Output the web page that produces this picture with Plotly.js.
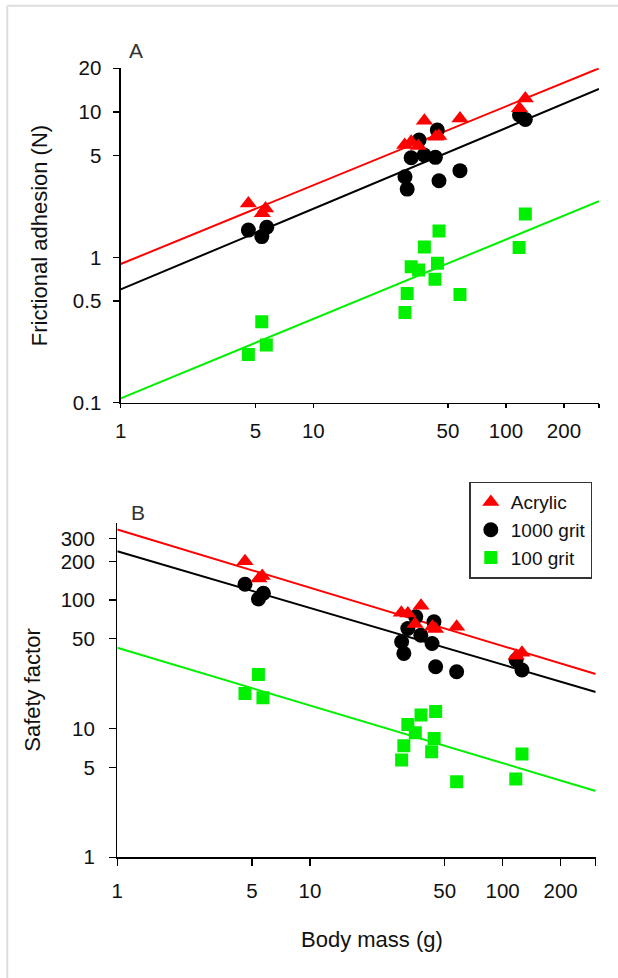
<!DOCTYPE html>
<html>
<head>
<meta charset="utf-8">
<script src="https://cdn.plot.ly/plotly-3.0.1.min.js"></script>
<style>html,body{margin:0;padding:0;background:#fff;}#chart{width:618px;height:978px;}</style>
</head>
<body>
<div id="chart"></div>
<script>
// ---- Data ----
const seriesNames = ['Acrylic', '1000 grit', '100 grit'];

const acrylicMass = [4.6, 5.65, 5.43, 29.8, 32.2, 35.1, 37.7, 43.2, 44.8, 57.7, 117.5, 126];
const acrylicAdhesion = [2.35, 2.17, 2.01, 5.93, 6.25, 5.84, 8.72, 6.77, 6.84, 9.04, 10.6, 12.4];
const acrylicSafety = [201, 154, 147, 79.7, 78.8, 65.1, 90.4, 62.1, 59.5, 62.1, 36.9, 38.9];

const grit1000Mass = [4.6, 5.4, 5.73, 29.9, 30.7, 32.2, 35.4, 37.6, 43.0, 44.0, 44.9, 57.7, 117.5, 126];
const grit1000Adhesion = [1.54, 1.39, 1.61, 3.59, 2.95, 4.85, 6.42, 5.06, 4.88, 7.52, 3.37, 3.95, 9.54, 8.90];
const grit1000Safety = [133, 102, 113, 47.4, 38.5, 60.2, 74.2, 53.4, 46.0, 67.9, 30.3, 27.7, 34.2, 28.6];

const grit100Mass = [4.6, 5.4, 5.7, 29.9, 30.7, 32.2, 35.2, 37.7, 42.8, 44.1, 44.9, 57.7, 117, 126];
const grit100Adhesion = [0.215, 0.361, 0.249, 0.418, 0.565, 0.863, 0.818, 1.18, 0.706, 0.910, 1.52, 0.556, 1.17, 1.99];
const grit100Safety = [18.8, 26.4, 17.4, 5.71, 7.38, 10.8, 9.31, 12.8, 6.63, 8.41, 13.6, 3.87, 4.06, 6.36];

// fitted lines (end points)
const fitMass = [1, 304];
const fitAcrylicAdhesion = [0.90, 20.0];
const fitGrit1000Adhesion = [0.602, 14.4];
const fitGrit100Adhesion = [0.107, 2.44];
const fitAcrylicSafety = [354, 26.6];
const fitGrit1000Safety = [240, 19.3];
const fitGrit100Safety = [42.6, 3.28];

// axis ticks
const massTicks = [1, 5, 10, 50, 100, 200, 304];
const massTickText = ['1', '5', '10', '50', '100', '200', ''];
const adhesionTicks = [0.1, 0.5, 1, 5, 10, 20];
const adhesionTickText = ['0.1', '0.5', '1', '5', '10', '20'];
const safetyTicks = [1, 5, 10, 50, 100, 200, 300];
const safetyTickText = ['1', '5', '10', '50', '100', '200', '300'];

// ---- Styles ----
const FONT = 'Liberation Sans, Arial, sans-serif';
const RED = '#ff0000', BLACK = '#000000', GREEN = '#00f000';

function line(x, y, color, xa, ya) {
  return {x: x, y: y, mode: 'lines', type: 'scatter', xaxis: xa, yaxis: ya,
    line: {color: color, width: 2}, showlegend: false, hoverinfo: 'skip'};
}
function pts(x, y, name, symbol, size, color, xa, ya, show, rank) {
  return {x: x, y: y, mode: 'markers', type: 'scatter', name: name, xaxis: xa, yaxis: ya,
    showlegend: show, legendrank: rank,
    marker: {symbol: symbol, size: size, color: color, line: {width: 0}}};
}

const traces = [
  line(fitMass, fitAcrylicAdhesion, RED, 'x', 'y'),
  line(fitMass, fitGrit1000Adhesion, BLACK, 'x', 'y'),
  line(fitMass, fitGrit100Adhesion, GREEN, 'x', 'y'),
  line(fitMass, fitAcrylicSafety, RED, 'x2', 'y2'),
  line(fitMass, fitGrit1000Safety, BLACK, 'x2', 'y2'),
  line(fitMass, fitGrit100Safety, GREEN, 'x2', 'y2'),
  pts(grit1000Mass, grit1000Adhesion, seriesNames[1], 'circle', 15, BLACK, 'x', 'y', true, 2),
  pts(acrylicMass, acrylicAdhesion, seriesNames[0], 'triangle-up', 15, RED, 'x', 'y', true, 1),
  pts(grit100Mass, grit100Adhesion, seriesNames[2], 'square', 13, GREEN, 'x', 'y', true, 3),
  pts(grit1000Mass, grit1000Safety, seriesNames[1], 'circle', 15, BLACK, 'x2', 'y2', false, 2),
  pts(acrylicMass, acrylicSafety, seriesNames[0], 'triangle-up', 15, RED, 'x2', 'y2', false, 1),
  pts(grit100Mass, grit100Safety, seriesNames[2], 'square', 13, GREEN, 'x2', 'y2', false, 3)
];

const W = 618, H = 978;
const axCommon = {type: 'log', showline: true, linecolor: '#000', linewidth: 1.3,
  showgrid: false, zeroline: false, ticks: 'outside', tickcolor: '#000', tickwidth: 1.3,
  tickmode: 'array', tickfont: {family: FONT, size: 20.5, color: '#111'}, fixedrange: true};

const layout = {
  width: W, height: H,
  margin: {l: 0, r: 0, t: 0, b: 0},
  paper_bgcolor: '#fff', plot_bgcolor: 'rgba(0,0,0,0)',
  font: {family: FONT, color: '#111'},
  showlegend: true,
  xaxis: Object.assign({}, axCommon, {
    domain: [120.7 / W, 599 / W], range: [0, Math.log10(304)], anchor: 'y',
    tickvals: massTicks, ticktext: massTickText, ticklen: 4, ticklabelstandoff: 5}),
  yaxis: Object.assign({}, axCommon, {
    domain: [1 - 402.7 / H, 1 - 68.3 / H], range: [-1, Math.log10(20)], anchor: 'x',
    tickvals: adhesionTicks, ticktext: adhesionTickText, ticklen: 6, ticklabelstandoff: 8,
    title: {text: 'Frictional adhesion (N)', font: {family: FONT, size: 22, color: '#111'}, standoff: 19}}),
  xaxis2: Object.assign({}, axCommon, {
    domain: [117.3 / W, 595.7 / W], range: [0, Math.log10(304)], anchor: 'y2',
    tickvals: massTicks, ticktext: massTickText, ticklen: 7, ticklabelstandoff: 8}),
  yaxis2: Object.assign({}, axCommon, {
    domain: [1 - 857.3 / H, 1 - 522.7 / H], range: [0, Math.log10(400)], anchor: 'x2',
    tickvals: safetyTicks, ticktext: safetyTickText, ticklen: 7, ticklabelstandoff: 10,
    title: {text: 'Safety factor', font: {family: FONT, size: 22, color: '#111'}, standoff: 14}}),
  legend: {x: 469.3 / W, y: 1 - 481.7 / H, xanchor: 'left', yanchor: 'top',
    bgcolor: '#fff', bordercolor: '#333', borderwidth: 1.5,
    font: {family: FONT, size: 19, color: '#111'}, tracegroupgap: 0},
  annotations: [
    {text: 'A', xref: 'paper', yref: 'paper', x: 135.7 / W, y: 1 - 50 / H, xanchor: 'center', yanchor: 'middle',
      showarrow: false, font: {family: FONT, size: 21, color: '#333'}},
    {text: 'B', xref: 'paper', yref: 'paper', x: 138.3 / W, y: 1 - 512.3 / H, xanchor: 'center', yanchor: 'middle',
      showarrow: false, font: {family: FONT, size: 21, color: '#333'}},
    {text: 'Body mass (g)', xref: 'paper', yref: 'paper', x: 372 / W, y: 1 - 939 / H, xanchor: 'center', yanchor: 'middle',
      showarrow: false, font: {family: FONT, size: 22, color: '#111'}}
  ],
  shapes: [
    {type: 'line', xref: 'paper', yref: 'paper', x0: 7.3 / W, x1: 1, y0: 1 - 5.7 / H, y1: 1 - 5.7 / H,
      line: {color: '#dddddd', width: 2}},
    {type: 'line', xref: 'paper', yref: 'paper', x0: 7.3 / W, x1: 7.3 / W, y0: 0, y1: 1 - 5.7 / H,
      line: {color: '#dddddd', width: 2}}
  ]
};

Plotly.newPlot('chart', traces, layout, {staticPlot: true, displayModeBar: false});
</script>
</body>
</html>
